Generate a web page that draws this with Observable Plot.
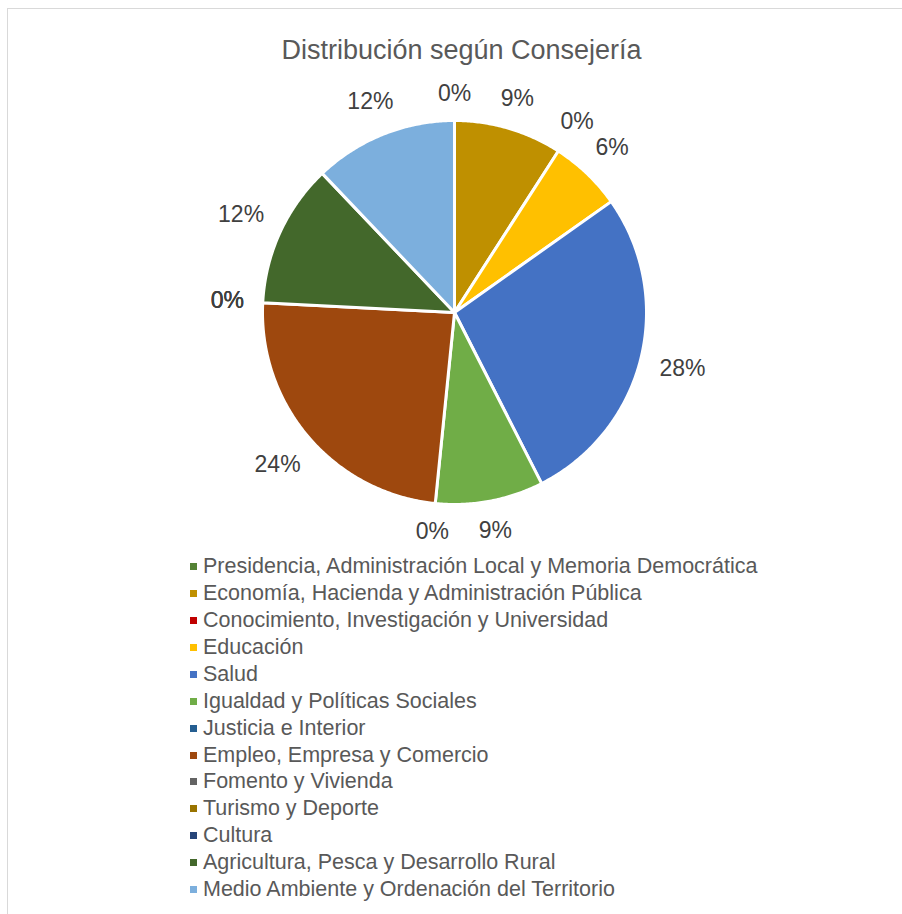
<!DOCTYPE html>
<html>
<head>
<meta charset="utf-8">
<script src="https://cdn.jsdelivr.net/npm/d3@7"></script>
<script src="https://cdn.jsdelivr.net/npm/@observablehq/plot@0.6"></script>
<style>
  html, body { margin: 0; padding: 0; background: #fff; width: 902px; height: 914px; overflow: hidden; }
  #frame { position: absolute; left: 7px; top: 8px; width: 1000px; height: 1000px; border: 1.5px solid #d9d9d9; box-sizing: border-box; }
  #title { position: absolute; left: 0; top: 35px; width: 923px; text-align: center; font-family: "Liberation Sans", Arial, sans-serif; font-size: 27px; line-height: 30px; color: #595959; white-space: nowrap; }
  #chart { position: absolute; left: 0; top: 0; }
  #legend { position: absolute; left: 190px; top: 553px; font-family: "Liberation Sans", Arial, sans-serif; font-size: 21.5px; color: #595959; }
  .row { display: flex; align-items: center; height: 26.95px; white-space: nowrap; }
  .sw { width: 7px; height: 7px; margin-right: 6px; flex: none; }
</style>
</head>
<body>
<div id="frame"></div>
<div id="title">Distribución según Consejería</div>
<div id="chart"></div>
<div id="legend"></div>
<script>
const categories = [
  "Presidencia, Administración Local y Memoria Democrática",
  "Economía, Hacienda y Administración Pública",
  "Conocimiento, Investigación y Universidad",
  "Educación",
  "Salud",
  "Igualdad y Políticas Sociales",
  "Justicia e Interior",
  "Empleo, Empresa y Comercio",
  "Fomento y Vivienda",
  "Turismo y Deporte",
  "Cultura",
  "Agricultura, Pesca y Desarrollo Rural",
  "Medio Ambiente y Ordenación del Territorio"
];
// slice shares (percent)
const shares = [0, 9.1, 0, 6.1, 27.3, 9.1, 0, 24.2, 0, 0, 0, 12.1, 12.1];
// data labels as printed on the chart
const labelText = ["0%", "9%", "0%", "6%", "28%", "9%", "0%", "24%", "0%", "0%", "0%", "12%", "12%"];
const colors = [
  "#548235", "#BF9000", "#C00000", "#FFC000", "#4472C4", "#70AD47", "#255E91",
  "#9E480E", "#636363", "#997300", "#264478", "#43682B", "#7CAFDD"
];

const rows = categories.map((name, i) => ({name, value: shares[i], label: labelText[i]}));
const arcs = d3.pie().sort(null).value(d => d.value)(rows);

// Pie slices as planar polygons in unit coordinates (radius 1, y down)
const features = arcs.filter(a => a.data.value > 0).map(a => {
  const n = Math.max(2, Math.ceil((a.endAngle - a.startAngle) / (Math.PI / 360)));
  const ring = [[0, 0]];
  for (let k = 0; k <= n; k++) {
    const t = a.startAngle + (a.endAngle - a.startAngle) * k / n;
    ring.push([Math.sin(t), -Math.cos(t)]);
  }
  ring.push([0, 0]);
  return {type: "Feature", properties: {name: a.data.name}, geometry: {type: "Polygon", coordinates: [ring]}};
});

// Data labels placed outside the slice end, at mid angle
const R = 192;          // pixels per unit
const visibleR = 190.5; // after white border
const fs = 23;
const labelRows = arcs.map(a => {
  const t = (a.startAngle + a.endAngle) / 2;
  const w = ((a.data.label.length - 1) * 0.556 + 0.889) * fs;
  const hw = w / 2, hh = 0.716 * fs / 2;
  const dist = visibleR + 20 + Math.abs(Math.sin(t)) * hw + Math.abs(Math.cos(t)) * hh;
  return {label: a.data.label, lx: Math.sin(t) * dist / R, ly: -Math.cos(t) * dist / R};
});

const plot = Plot.plot({
  width: 902,
  height: 545,
  marginLeft: 262,
  marginRight: 256,
  marginTop: 120,
  marginBottom: 41,
  projection: {type: "identity", clip: false, domain: {type: "MultiPoint", coordinates: [[-1, -1], [1, 1]]}},
  color: {domain: categories, range: colors},
  style: {background: "transparent", overflow: "visible"},
  marks: [
    Plot.geo(features, {fill: d => d.properties.name, stroke: "white", strokeWidth: 3, strokeLinejoin: "round"}),
    Plot.text(labelRows, {x: "lx", y: "ly", text: "label", fontSize: fs, fill: "#404040", fontFamily: "Liberation Sans, Arial, sans-serif"})
  ]
});
document.getElementById("chart").appendChild(plot);

const color = plot.scale("color");
const legend = d3.select("#legend");
categories.forEach(name => {
  const row = legend.append("div").attr("class", "row");
  row.append("span").attr("class", "sw").style("background", color.apply(name));
  row.append("span").text(name);
});
</script>
</body>
</html>
